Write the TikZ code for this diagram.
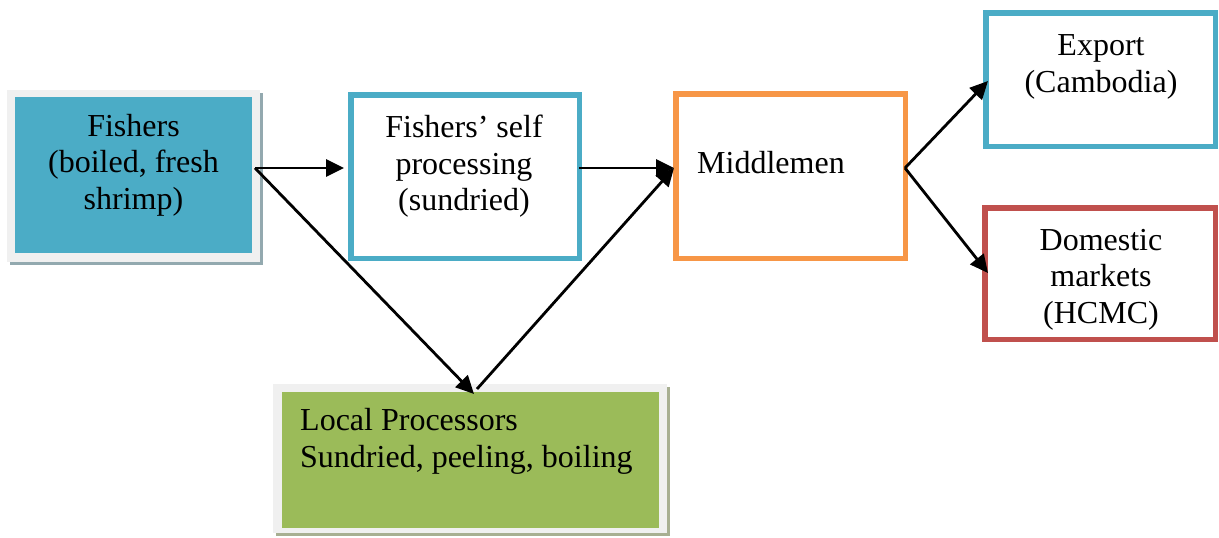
\documentclass[tikz,border=0pt]{standalone}
\usepackage{fontspec}
\setmainfont{Liberation Serif}
\usetikzlibrary{arrows.meta}

\definecolor{accblue}{HTML}{4BACC6}
\definecolor{accorange}{HTML}{F79646}
\definecolor{accred}{HTML}{C0504D}
\definecolor{accgreen}{HTML}{9BBB59}
\definecolor{framegray}{HTML}{F0F0F0}
\definecolor{shadeblue}{HTML}{93A9AF}
\definecolor{shadegreen}{HTML}{A8AF92}

\tikzset{
  outlinebox/.style={draw=#1, line width=5.5pt, fill=white, inner sep=0pt},
  boxtext/.style={inner sep=0pt, align=center,
    font=\fontsize{32}{36.5}\selectfont},
  flow/.style={line width=2.8pt, -{Triangle[length=18pt,width=17pt]}}
}

\begin{document}
\begin{tikzpicture}[x=1pt,y=-1pt]
  \useasboundingbox (0,0) rectangle (1219,538);

  % Fishers: filled box inside a light frame with a soft drop shadow
  \fill[shadeblue] (10,93) rectangle (263,265);
  \node[fill=framegray, inner sep=0pt, minimum width=253pt, minimum height=172pt]
    (fishframe) at (133.5,176) {};
  \node[fill=accblue, inner sep=0pt, minimum width=237pt, minimum height=156pt]
    (fishers) at (133.5,175) {};
  \node[boxtext] (fishtxt) at (133.5,165.5)
    {\strut Fishers\\\strut (boiled, fresh\\\strut shrimp)};

  % Fishers' own processing
  \node[outlinebox=accblue, minimum width=228.5pt, minimum height=163.5pt]
    (self) at (465,176.5) {};
  \node[boxtext] (selftxt) at (464,166.8)
    {\strut Fishers’ self\\\strut processing\\\strut (sundried)};

  % Middlemen
  \node[outlinebox=accorange, minimum width=229.5pt, minimum height=164.5pt]
    (mid) at (790.5,176) {};
  \node[boxtext, anchor=base west] (midtxt) at (697,173) {Middlemen};

  % Export
  \node[outlinebox=accblue, minimum width=229.5pt, minimum height=133.5pt]
    (export) at (1100.5,79.5) {};
  \node[boxtext] (exptxt) at (1101,66.8)
    {\strut Export\\\strut (Cambodia)};

  % Domestic markets
  \node[outlinebox=accred, minimum width=230.5pt, minimum height=131.5pt]
    (domestic) at (1100,273.5) {};
  \node[boxtext] (domtxt) at (1101,279.5)
    {\strut Domestic\\\strut markets\\\strut (HCMC)};

  % Local processors: filled box inside a light frame with a soft drop shadow
  \fill[shadegreen] (276,387) rectangle (670,536);
  \node[fill=framegray, inner sep=0pt, minimum width=394pt, minimum height=149pt]
    (localframe) at (470,458.5) {};
  \node[fill=accgreen, inner sep=0pt, minimum width=377pt, minimum height=136pt]
    (local) at (470.5,460) {};
  \node[boxtext, align=left, anchor=west] (localtxt) at (300,441.5)
    {\strut Local Processors\\\strut Sundried, peeling, boiling};

  % connector end points on the box edges
  \coordinate (fish-out) at (255,168);
  \coordinate (self-in)  at (344,168);
  \coordinate (self-out) at (579,168);
  \coordinate (mid-in)   at (674,168);
  \coordinate (mid-out)  at (905,168);
  \coordinate (exp-in)   at (988,81);
  \coordinate (dom-in)   at (988,273);
  \coordinate (loc-in)   at (474,394);
  \coordinate (loc-out)  at (477,389);

  % flows
  \draw[flow] (fish-out) -- (self-in);
  \draw[flow] (fish-out) -- (loc-in);
  \draw[flow] (self-out) -- (mid-in);
  \draw[flow] (loc-out) -- (mid-in);
  \draw[flow] (mid-out) -- (exp-in);
  \draw[flow] (mid-out) -- (dom-in);
\end{tikzpicture}
\end{document}
